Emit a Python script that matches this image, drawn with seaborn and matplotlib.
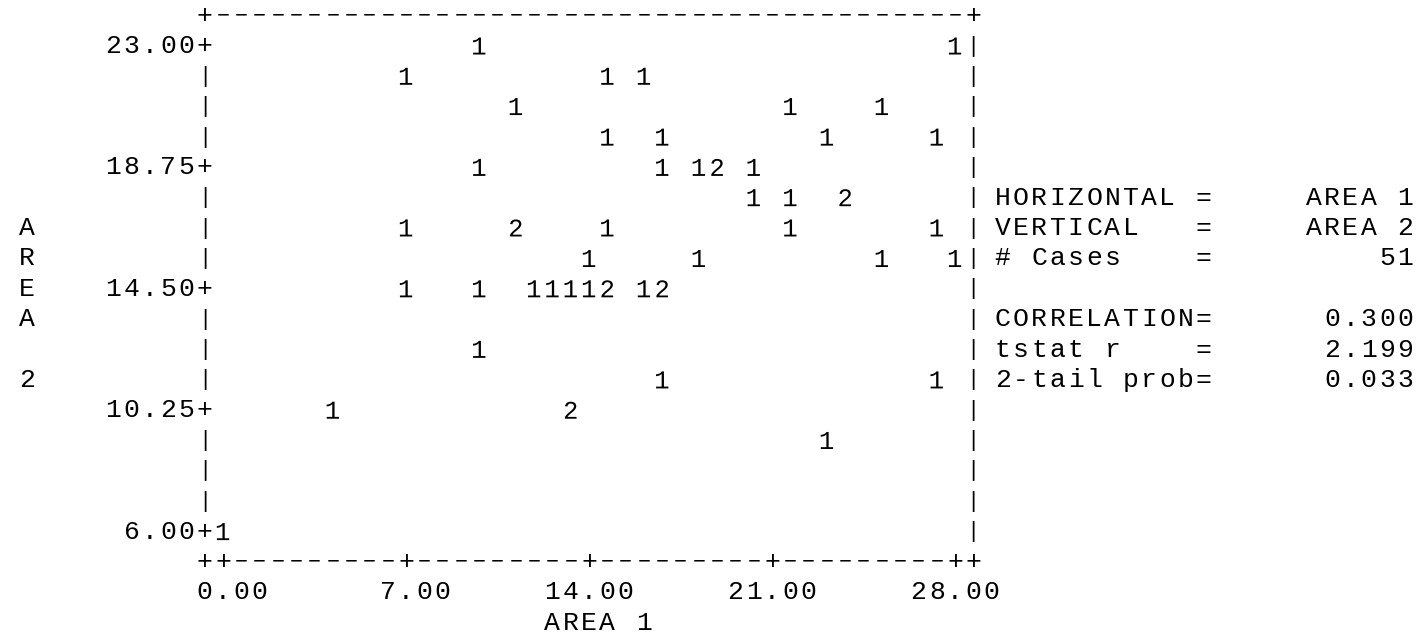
import matplotlib
matplotlib.use("Agg")
import matplotlib.pyplot as plt
import pandas as pd
import seaborn as sns

# ---- data: occupied character cells of the printer plot ----
# AREA 1 (horizontal), AREA 2 (vertical) and number of cases in each cell
area1 = [9.8, 28.0,
         7.0, 14.7, 16.1,
         11.2, 21.7, 25.2,
         14.7, 16.8, 23.1, 27.3,
         9.8, 16.8, 18.2, 18.9, 20.3,
         20.3, 21.7, 23.8,
         7.0, 11.2, 14.7, 21.7, 27.3,
         14.0, 18.2, 25.2, 28.0,
         7.0, 9.8, 11.9, 12.6, 13.3, 14.0, 14.7, 16.1, 16.8,
         9.8,
         16.8, 27.3,
         4.2, 13.3,
         23.1,
         0.0]
area2 = [23.00, 23.00,
         21.94, 21.94, 21.94,
         20.88, 20.88, 20.88,
         19.81, 19.81, 19.81, 19.81,
         18.75, 18.75, 18.75, 18.75, 18.75,
         17.69, 17.69, 17.69,
         16.63, 16.63, 16.63, 16.63, 16.63,
         15.56, 15.56, 15.56, 15.56,
         14.50, 14.50, 14.50, 14.50, 14.50, 14.50, 14.50, 14.50, 14.50,
         12.38,
         11.31, 11.31,
         10.25, 10.25,
         9.19,
         6.00]
cases = [1, 1,
         1, 1, 1,
         1, 1, 1,
         1, 1, 1, 1,
         1, 1, 1, 2, 1,
         1, 1, 2,
         1, 2, 1, 1, 1,
         1, 1, 1, 1,
         1, 1, 1, 1, 1, 1, 2, 1, 2,
         1,
         1, 1,
         1, 2,
         1,
         1]

x_ticks = [0.0, 7.0, 14.0, 21.0, 28.0]
y_ticks = [23.00, 18.75, 14.50, 10.25, 6.00]
x_title = "AREA 1"
y_title = "AREA 2"
stats_lines = ["HORIZONTAL =     AREA 1",
               "VERTICAL   =     AREA 2",
               "# Cases    =         51",
               "",
               "CORRELATION=      0.300",
               "tstat r    =      2.199",
               "2-tail prob=      0.033"]

# ---- character grid geometry (10 columns per x tick, 4 lines per y tick) ----
COLS_PER_TICK = 10
ROWS_PER_TICK = 4
dx = (x_ticks[1] - x_ticks[0]) / COLS_PER_TICK
dy = (y_ticks[0] - y_ticks[1]) / ROWS_PER_TICK
n_cols = (len(x_ticks) - 1) * COLS_PER_TICK      # last data column
n_rows = (len(y_ticks) - 1) * ROWS_PER_TICK      # last data row

W, H, DPI = 1425, 642, 100
COL0_PX, COL_PITCH = 223.0, 18.3
ROW0_PX, ROW_PITCH = 46.0, 30.35


def gx(col):
    return x_ticks[0] + col * dx


def gy(row):
    return y_ticks[0] - row * dy


sns.set_theme(style="white")
plt.rcParams["font.family"] = ["Liberation Mono", "DejaVu Sans"]
plt.rcParams["mathtext.fontset"] = "custom"
plt.rcParams["mathtext.rm"] = "Liberation Mono"
plt.rcParams["mathtext.it"] = "Liberation Mono"
plt.rcParams["mathtext.bf"] = "Liberation Mono:bold"

FS = 19
DASH = "\u2212"                          # rule segment
SIZE_FOR = {"|": 16, DASH: 15.5}         # printer rules look like broken strokes
INK = "black"

fig = plt.figure(figsize=(W / DPI, H / DPI), dpi=DPI)
fig.patch.set_facecolor("white")
ax = fig.add_axes([0, 0, 1, 1])
ax.set_axis_off()

df = pd.DataFrame({"AREA 1": area1, "AREA 2": area2, "cases": cases})
sns.scatterplot(data=df, x="AREA 1", y="AREA 2", style="cases",
                markers={1: "$1$", 2: "$2$"}, s=150, color=INK,
                linewidth=0, legend=False, ax=ax)

# map the whole canvas onto the character grid
left_col = -COL0_PX / COL_PITCH
right_col = (W - COL0_PX) / COL_PITCH
top_row = -ROW0_PX / ROW_PITCH
bottom_row = (H - ROW0_PX) / ROW_PITCH
ax.set_xlim(gx(left_col), gx(right_col))
ax.set_ylim(gy(bottom_row), gy(top_row))


def put(col, row, s, **kw):
    """Write a string one monospaced cell at a time."""
    for i, ch in enumerate(s):
        if ch != " ":
            ax.text(gx(col + i), gy(row), ch, ha="center", va="center",
                    fontsize=SIZE_FOR.get(ch, FS), color=INK,
                    clip_on=False, **kw)


# frame: top and bottom border lines
put(-1, -1, "+" + DASH * (n_cols + 1) + "+")
bottom = [DASH] * (n_cols + 3)
bottom[0] = bottom[-1] = "+"
for k in range(len(x_ticks)):
    bottom[k * COLS_PER_TICK + 1] = "+"
put(-1, n_rows + 1, "".join(bottom))

# side borders with y tick marks and labels
for r in range(n_rows + 1):
    put(n_cols + 1, r, "|")
    if r % ROWS_PER_TICK == 0:
        put(-1, r, "+")
        lab = f"{y_ticks[r // ROWS_PER_TICK]:.2f}"
        put(-1 - len(lab), r, lab)
    else:
        put(-1, r, "|")

# x tick labels, decimal point under the tick
for k, v in enumerate(x_ticks):
    lab = f"{v:.2f}"
    put(k * COLS_PER_TICK - lab.index("."), n_rows + 2, lab)

# axis titles
put(n_cols // 2 - 2, n_rows + 3, x_title)
for i, ch in enumerate(y_title):
    put(-10.7, 6 + i, ch)

# statistics block
for i, line in enumerate(stats_lines):
    put(n_cols + 2.6, 5 + i, line)

fig.savefig("out.png", dpi=DPI, facecolor="white")
